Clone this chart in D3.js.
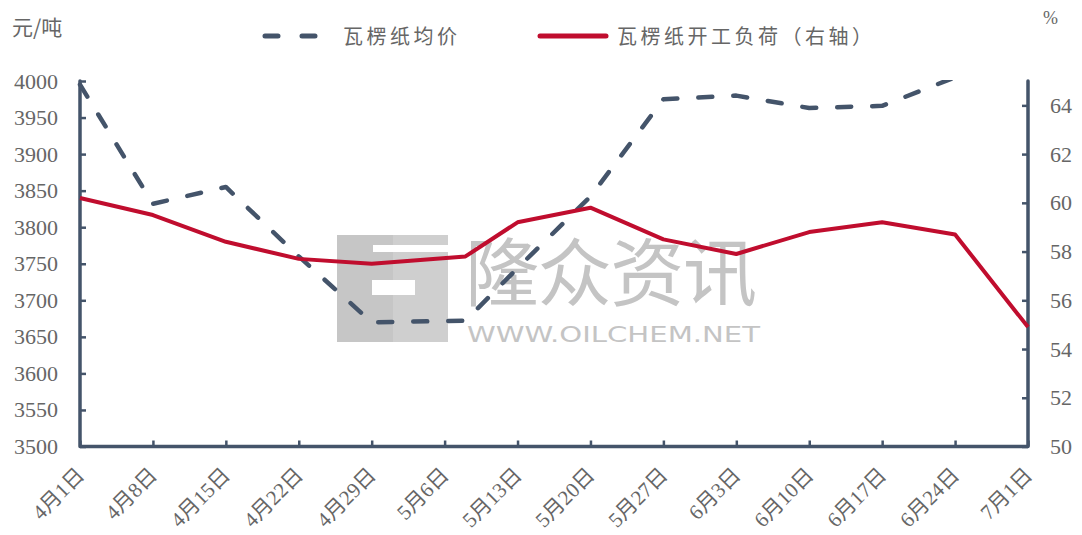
<!DOCTYPE html>
<html><head><meta charset="utf-8">
<script src="https://cdn.jsdelivr.net/npm/d3@7"></script>
<style>
html,body{margin:0;padding:0;background:#fff;}
svg{display:block;}
</style></head>
<body>
<svg id="chart" width="1082" height="535"></svg>
<script>
// ---- data ----
const dates = ["2025-04-01","2025-04-08","2025-04-15","2025-04-22","2025-04-29","2025-05-08","2025-05-13","2025-05-20","2025-05-27","2025-06-03","2025-06-10","2025-06-17","2025-06-24","2025-07-01"];
const priceValues = [3995, 3832, 3855, 3760, 3670, 3672, 3744, 3842, 3975, 3980, 3963, 3966, 4005, null];
const loadValues = [60.2, 59.5, 58.4, 57.7, 57.5, 57.8, 59.2, 59.8, 58.5, 57.9, 58.8, 59.2, 58.7, 54.9];
const tickDates = ["2025-04-01","2025-04-08","2025-04-15","2025-04-22","2025-04-29","2025-05-06","2025-05-13","2025-05-20","2025-05-27","2025-06-03","2025-06-10","2025-06-17","2025-06-24","2025-07-01"];
const tickLabels = ["4月1日","4月8日","4月15日","4月22日","4月29日","5月6日","5月13日","5月20日","5月27日","6月3日","6月10日","6月17日","6月24日","7月1日"];
const leftTicks = [3500,3550,3600,3650,3700,3750,3800,3850,3900,3950,4000];
const rightTicks = [50,52,54,56,58,60,62,64];
const seriesNames = ["瓦楞纸均价","瓦楞纸开工负荷（右轴）"];
const leftUnit = "元/吨", rightUnit = "%";

// ---- layout ----
const L = 80, R = 1028, T = 81, B = 446.5;
const axisColor = "#44546A", priceColor = "#44546A", loadColor = "#C00D2E";
const textColor = "#666";
const numFont = "'Liberation Serif', 'Noto Sans CJK SC', serif";
const cjkFont = "'Noto Sans CJK SC', sans-serif";

const parse = d3.timeParse("%Y-%m-%d");
const svg = d3.select("#chart");

const x = d3.scaleTime().domain([parse(tickDates[0]), parse(tickDates[tickDates.length-1])]).range([L, R]);
const yL = d3.scaleLinear().domain([3500, 4000]).range([B, T]);
const yR = d3.scaleLinear().domain([50, 65]).range([B, T]);

// ---- watermark ----
const wm = svg.append("g").attr("class","watermark");
wm.append("rect").attr("x",337).attr("y",235).attr("width",56).attr("height",107).attr("fill","#c6c6c6");
wm.append("rect").attr("x",393).attr("y",235).attr("width",55).attr("height",107).attr("fill","#cfcfcf");
wm.append("rect").attr("x",373).attr("y",245).attr("width",75).attr("height",7).attr("fill","#fff");
wm.append("rect").attr("x",372).attr("y",280).attr("width",43).attr("height",15).attr("fill","#fff");
wm.append("text").attr("x",465).attr("y",300).attr("font-family",cjkFont).attr("font-size",74)
  .attr("fill","#c4c4c4").attr("textLength",292).text("隆众资讯");
wm.append("text").attr("x",467).attr("y",342).attr("font-family","'DejaVu Sans', sans-serif").attr("font-size",22)
  .attr("fill","#c4c4c4").attr("textLength",293).attr("lengthAdjust","spacingAndGlyphs").text("WWW.OILCHEM.NET");

// ---- axes ----
const gx = svg.append("g").attr("transform",`translate(0,${B})`)
  .call(d3.axisBottom(x).tickValues(tickDates.map(parse)).tickSize(-6).tickFormat((d,i)=>tickLabels[i]));
gx.select(".domain").remove();
gx.selectAll(".tick line").attr("stroke",axisColor).attr("stroke-width",2.5);
gx.selectAll(".tick text")
  .attr("font-family",numFont).attr("font-size",21).attr("fill",textColor)
  .attr("text-anchor","end").attr("dy",null).attr("y",0)
  .attr("transform","translate(5,30) rotate(-45)");

const gl = svg.append("g").attr("transform",`translate(${L},0)`)
  .call(d3.axisLeft(yL).tickValues(leftTicks).tickSize(-6).tickPadding(22).tickFormat(d3.format("d")));
gl.select(".domain").remove();
gl.selectAll(".tick line").attr("stroke",axisColor).attr("stroke-width",2.5);
gl.selectAll(".tick text").attr("font-family",numFont).attr("font-size",22).attr("fill",textColor);

const gr = svg.append("g").attr("transform",`translate(${R},0)`)
  .call(d3.axisRight(yR).tickValues(rightTicks).tickSize(-6).tickPadding(22).tickFormat(d3.format("d")));
gr.select(".domain").remove();
gr.selectAll(".tick line").attr("stroke",axisColor).attr("stroke-width",2.5);
gr.selectAll(".tick text").attr("font-family",numFont).attr("font-size",22).attr("fill",textColor);

// frame lines (left, bottom, right)
svg.append("path")
  .attr("d",`M${L},${T}V${B}H${R}V${T}`)
  .attr("fill","none").attr("stroke",axisColor).attr("stroke-width",3.5).attr("stroke-linejoin","round").attr("stroke-linecap","round");

// ---- lines ----
svg.append("clipPath").attr("id","plotclip").append("rect")
  .attr("x",L-5).attr("y",T-1).attr("width",R-L+10).attr("height",B-T+6);

const priceData = dates.map((d,i)=>({d:parse(d), v:priceValues[i]}));
const loadData = dates.map((d,i)=>({d:parse(d), v:loadValues[i]}));

svg.append("path").datum(priceData)
  .attr("clip-path","url(#plotclip)")
  .attr("d", d3.line().defined(p=>p.v!=null).x(p=>x(p.d)).y(p=>yL(p.v)))
  .attr("fill","none").attr("stroke",priceColor).attr("stroke-width",4.5)
  .attr("stroke-dasharray","14,21").attr("stroke-linecap","round").attr("stroke-linejoin","round");

svg.append("path").datum(loadData)
  .attr("d", d3.line().x(p=>x(p.d)).y(p=>yR(p.v)))
  .attr("fill","none").attr("stroke",loadColor).attr("stroke-width",4).attr("stroke-linejoin","round");

// ---- titles / legend ----
svg.append("text").attr("x",12).attr("y",35).attr("font-family",cjkFont).attr("font-size",21)
  .attr("fill",textColor).text(leftUnit);
svg.append("text").attr("x",1043).attr("y",24).attr("font-family",numFont).attr("font-size",18)
  .attr("fill",textColor).text(rightUnit);

const lg = svg.append("g");
lg.append("line").attr("x1",265).attr("x2",315).attr("y1",36).attr("y2",36)
  .attr("stroke",priceColor).attr("stroke-width",5).attr("stroke-dasharray","13,24").attr("stroke-linecap","round");
lg.append("text").attr("x",343).attr("y",43.5).attr("font-family",cjkFont).attr("font-size",20)
  .attr("letter-spacing",3.5).attr("fill",textColor).text(seriesNames[0]);
lg.append("line").attr("x1",540).attr("x2",606).attr("y1",36).attr("y2",36)
  .attr("stroke",loadColor).attr("stroke-width",5).attr("stroke-linecap","round");
lg.append("text").attr("x",617).attr("y",43.5).attr("font-family",cjkFont).attr("font-size",20)
  .attr("letter-spacing",3.5).attr("fill",textColor).text(seriesNames[1]);
</script>
</body></html>
